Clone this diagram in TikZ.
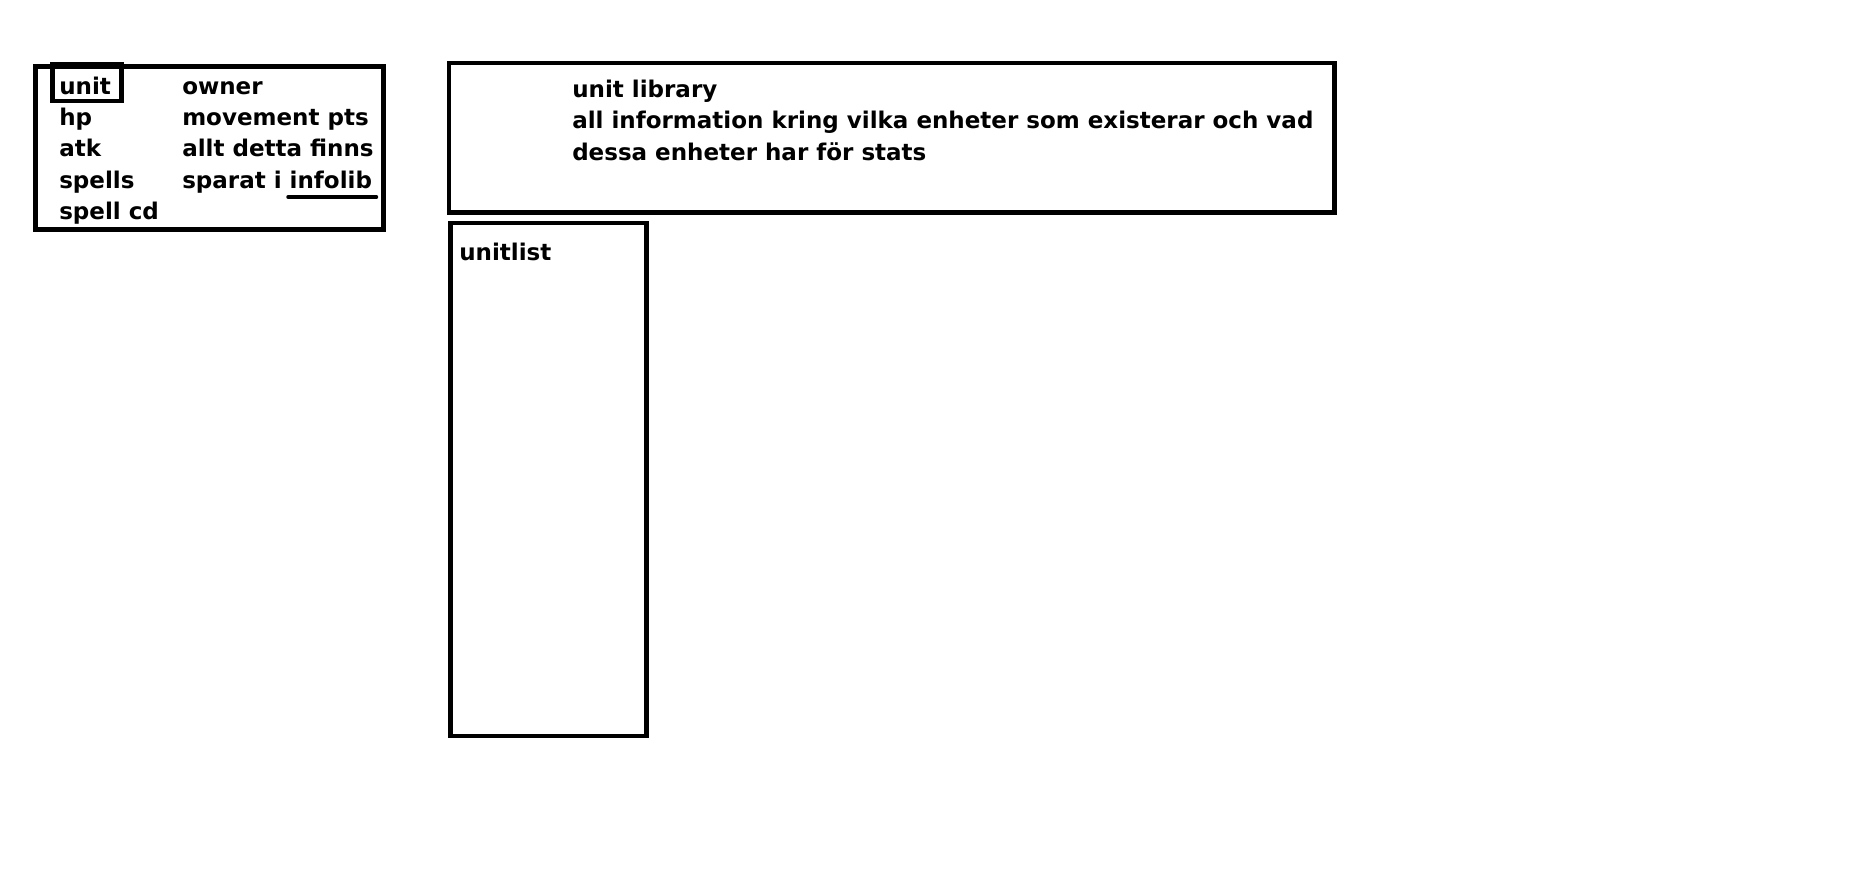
\documentclass[tikz,border=0pt]{standalone}
\usepackage{fontspec}
\setmainfont{DejaVu Sans}
\begin{document}
\begin{tikzpicture}[x=0.75pt,y=-0.75pt,
  lbl/.style={anchor=base west,inner sep=0pt,font=\bfseries\fontsize{17.25pt}{23.6pt}\selectfont},
  frame/.style={draw=black,line width=3.6pt},
  thinframe/.style={draw=black,line width=3.4pt}]
\useasboundingbox[fill=white] (0,0) rectangle (1876,878);
% unit info box
\draw[frame] (35.7,66.7) rectangle (383.5,229.5);
\draw[thinframe] (52.3,64.5) rectangle (121.7,101.2);
\node[lbl] (unit) at (59,94) {unit};
\node[lbl] (hp) at (59,125) {hp};
\node[lbl] (atk) at (59,156.5) {atk};
\node[lbl] (spells) at (59,188) {spells};
\node[lbl] (spellcd) at (59,219.5) {spell cd};
\node[lbl] (owner) at (182,94) {owner};
\node[lbl] (move) at (182,125) {movement pts};
\node[lbl] (allt) at (182,156.5) {allt detta finns};
\node[lbl] (sparat) at (182,188) {sparat i infolib};
\coordinate (ul1) at (288,197);
\coordinate (ul2) at (376.5,197);
\draw[line width=2.6pt,line cap=round] (ul1) -- (ul2);
% unit library
\draw[frame] (449,63) rectangle (1334.5,212.5);
\node[lbl] (lib1) at (572,97) {unit library};
\node[lbl] (lib2) at (572,128.5) {all information kring vilka enheter som existerar och vad};
\node[lbl] (lib3) at (572,160) {dessa enheter har för stats};
% unitlist
\draw[frame] (450.4,223) rectangle (646.5,736);
\node[lbl] (ulist) at (459,260) {unitlist};
\end{tikzpicture}
\end{document}
